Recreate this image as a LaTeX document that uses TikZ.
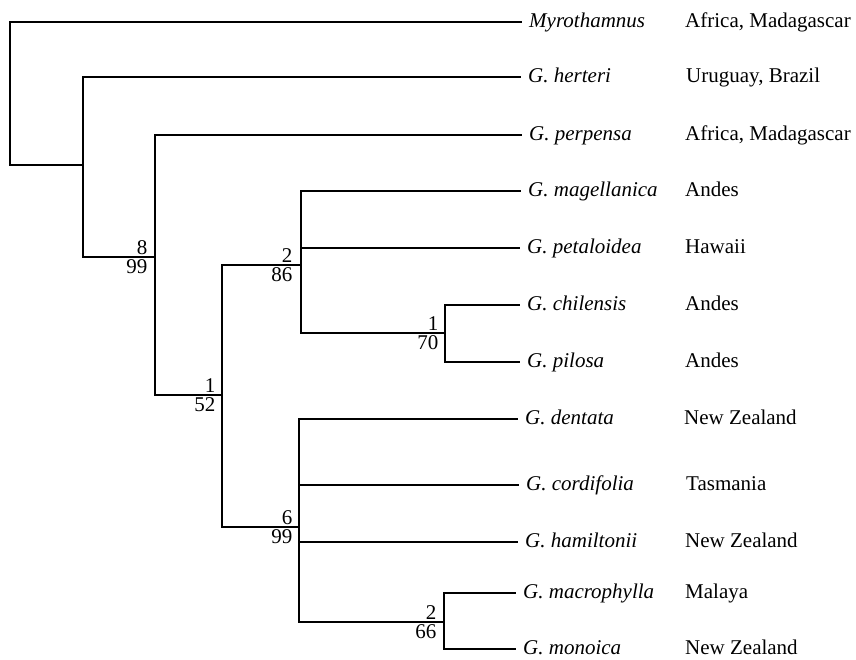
\documentclass[tikz,border=0pt]{standalone}
\usepackage{fontspec}
\setmainfont{Liberation Serif}

\begin{document}
\begin{tikzpicture}[x=1pt, y=-1pt,
    branch/.style={line width=2.6pt},
    taxon/.style={anchor=west, inner xsep=7pt, inner ysep=0pt, text height=15pt, text depth=5pt, font=\fontsize{21}{24}\selectfont\itshape},
    region/.style={anchor=west, inner xsep=0pt, inner ysep=0pt, text height=15pt, text depth=5pt, font=\fontsize{21}{24}\selectfont},
    decay/.style={anchor=south east, inner sep=2.5pt, font=\fontsize{21}{24}\selectfont},
    boot/.style={anchor=north east, inner sep=2.5pt, font=\fontsize{21}{24}\selectfont}
]
\useasboundingbox (0,0) rectangle (856,659);

% Internal nodes of the tree
\coordinate (cRoot) at (10,93);
\coordinate (cA) at (83,165);
\coordinate (cB) at (155,257);
\coordinate (cC) at (222,395);
\coordinate (cD) at (301,265);
\coordinate (cE) at (445,333);
\coordinate (cF) at (299,527);
\coordinate (cG) at (444,622);

% Taxa
\node[taxon] (myro) at (522,22) {Myrothamnus};
\node[taxon] (herteri) at (521,77) {G. herteri};
\node[taxon] (perpensa) at (522,135) {G. perpensa};
\node[taxon] (magell) at (521,191) {G. magellanica};
\node[taxon] (petal) at (520,248) {G. petaloidea};
\node[taxon] (chil) at (520,305) {G. chilensis};
\node[taxon] (pilosa) at (520,362) {G. pilosa};
\node[taxon] (dentata) at (518,419) {G. dentata};
\node[taxon] (cordif) at (519,485) {G. cordifolia};
\node[taxon] (hamil) at (518,542) {G. hamiltonii};
\node[taxon] (macro) at (516,593) {G. macrophylla};
\node[taxon] (monoica) at (516,649) {G. monoica};

% Distribution
\node[region] (rMyro) at (685,22) {Africa, Madagascar};
\node[region] (rHerteri) at (686,77) {Uruguay, Brazil};
\node[region] (rPerpensa) at (685,135) {Africa, Madagascar};
\node[region] (rMagell) at (685,191) {Andes};
\node[region] (rPetal) at (685,248) {Hawaii};
\node[region] (rChil) at (685,305) {Andes};
\node[region] (rPilosa) at (685,362) {Andes};
\node[region] (rDentata) at (684,419) {New Zealand};
\node[region] (rCordif) at (686,485) {Tasmania};
\node[region] (rHamil) at (685,542) {New Zealand};
\node[region] (rMacro) at (685,593) {Malaya};
\node[region] (rMonoica) at (685,649) {New Zealand};

% Branches
\draw[branch] (cRoot) |- (myro.west);
\draw[branch] (cRoot) |- (cA);
\draw[branch] (cA) |- (herteri.west);
\draw[branch] (cA) |- (cB);
\draw[branch] (cB) |- (perpensa.west);
\draw[branch] (cB) |- (cC);
\draw[branch] (cC) |- (cD);
\draw[branch] (cC) |- (cF);
\draw[branch] (cD) |- (magell.west);
\draw[branch] (cD) |- (petal.west);
\draw[branch] (cD) |- (cE);
\draw[branch] (cE) |- (chil.west);
\draw[branch] (cE) |- (pilosa.west);
\draw[branch] (cF) |- (dentata.west);
\draw[branch] (cF) |- (cordif.west);
\draw[branch] (cF) |- (hamil.west);
\draw[branch] (cF) |- (cG);
\draw[branch] (cG) |- (macro.west);
\draw[branch] (cG) |- (monoica.west);

% Decay index above, bootstrap below
\node[decay] (dB) at ([xshift=-5pt]cB) {8};
\node[boot] (bB) at ([xshift=-5pt]cB) {99};
\node[decay] (dC) at ([xshift=-4pt]cC) {1};
\node[boot] (bC) at ([xshift=-4pt]cC) {52};
\node[decay] (dD) at ([xshift=-6pt]cD) {2};
\node[boot] (bD) at ([xshift=-6pt]cD) {86};
\node[decay] (dE) at ([xshift=-4pt]cE) {1};
\node[boot] (bE) at ([xshift=-4pt]cE) {70};
\node[decay] (dF) at ([xshift=-4pt]cF) {6};
\node[boot] (bF) at ([xshift=-4pt]cF) {99};
\node[decay] (dG) at ([xshift=-5pt]cG) {2};
\node[boot] (bG) at ([xshift=-5pt]cG) {66};
\end{tikzpicture}
\end{document}
